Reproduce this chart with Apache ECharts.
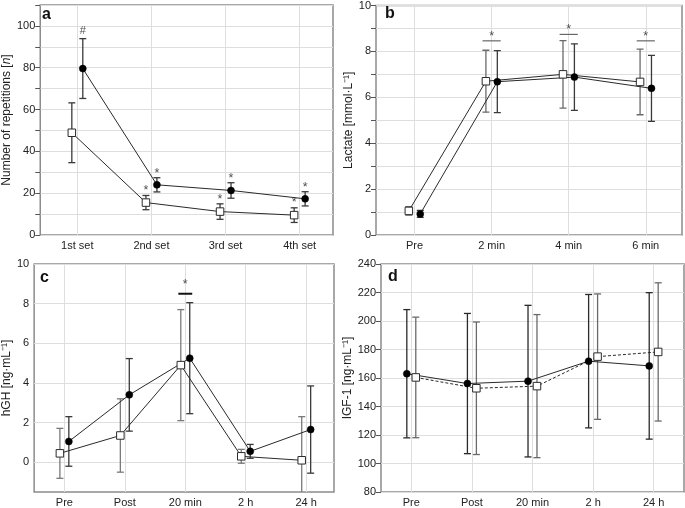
<!DOCTYPE html>
<html><head><meta charset="utf-8">
<script src="https://cdn.jsdelivr.net/npm/echarts@6/dist/echarts.min.js"></script>
<style>html,body{margin:0;padding:0;background:#fff}#c{width:685px;height:508px}</style>
</head><body><div id="c"></div><script>
// ---- Panel a: Number of repetitions ----
const aCategories = ['1st set', '2nd set', '3rd set', '4th set'];
const aOpenMean = [48.9, 15.5, 11.2, 9.5];
const aOpenSD = [14.3, 3.4, 3.7, 3.5];
const aFilledMean = [79.6, 24.0, 21.3, 17.3];
const aFilledSD = [14.3, 3.4, 3.7, 3.4];
const aYTicks = [0, 20, 40, 60, 80, 100];
// [category (1-based), side (-1 open / +1 filled / 0 centre), y, text]
const aMarks = [[1, 1, 97.6, '#'], [2, -1, 22.5, '*'], [2, 1, 30.5, '*'], [3, -1, 18.3, '*'], [3, 1, 28.2, '*'], [4, -1, 16.5, '*'], [4, 1, 23.8, '*']];

// ---- Panel b: Lactate ----
const bCategories = ['Pre', '2 min', '4 min', '6 min'];
const bOpenMean = [1.05, 6.70, 7.00, 6.67];
const bOpenSD = [0.18, 1.35, 1.47, 1.43];
const bFilledMean = [0.92, 6.68, 6.88, 6.39];
const bFilledSD = [0.15, 1.35, 1.45, 1.44];
const bYTicks = [0, 2, 4, 6, 8, 10];
const bSigLines = [[2, 8.46], [3, 8.74], [4, 8.46]];
const bMarks = [[2, 0, 8.75, '*'], [3, 0, 9.08, '*'], [4, 0, 8.74, '*']];

// ---- Panel c: hGH ----
const cCategories = ['Pre', 'Post', '20 min', '2 h', '24 h'];
const cOpenMean = [0.45, 1.35, 4.90, 0.30, 0.10];
const cOpenSD = [1.26, 1.85, 2.80, 0.35, 2.20];
const cFilledMean = [1.05, 3.40, 5.25, 0.55, 1.65];
const cFilledSD = [1.25, 1.83, 2.80, 0.35, 2.20];
const cYTicks = [0, 2, 4, 6, 8, 10];
const cSigLines = [[3, 8.5]];
const cMarks = [[3, 0, 9.1, '*']];

// ---- Panel d: IGF-1 ----
const dCategories = ['Pre', 'Post', '20 min', '2 h', '24 h'];
const dFilledMean = [163.0, 156.1, 157.8, 171.8, 168.5];
const dFilledSD = [45.0, 49.2, 53.2, 46.8, 51.4];
const dOpenMean = [160.4, 152.8, 154.3, 175.0, 178.3];
const dOpenSD = [42.3, 46.5, 50.2, 44.0, 48.5];

const FONT = '"Liberation Sans", Arial, Helvetica, sans-serif';
const GRID_C = '#dedede';
const FRAME_C = '#8c8c8c';

const grids = [
  { left: 33, top: 5, width: 300, height: 230 },
  { left: 376, top: 4, width: 306, height: 231 },
  { left: 29, top: 264, width: 305, height: 232 },
  { left: 381, top: 264, width: 303, height: 231 }
].map(g => Object.assign({ show: true, borderColor: FRAME_C, borderWidth: 1.5, backgroundColor: '#fff' }, g));

function xAxis(idx, cats, max) {
  const vals = cats.map((c, i) => i + 1);
  return {
    type: 'value', gridIndex: idx, min: 0.5, max: max,
    axisLine: { show: false },
    axisTick: { show: false, customValues: vals },
    splitLine: { show: true, lineStyle: { color: GRID_C, width: 1 } },
    axisLabel: { customValues: vals, formatter: v => cats[Math.round(v) - 1] || '', color: '#222', fontFamily: FONT, fontSize: 11, margin: 5 }
  };
}
function yAxis(idx, opts, labels, name, gap) {
  return Object.assign({
    type: 'value', gridIndex: idx,
    name: name, nameLocation: 'middle', nameGap: gap, nameRotate: 90,
    nameTextStyle: { fontFamily: FONT, fontSize: 12, color: '#222', rich: { i: { fontFamily: FONT, fontSize: 12, fontStyle: 'italic', color: '#222' } } },
    axisLine: { show: false },
    splitLine: { show: true, lineStyle: { color: GRID_C, width: 1 } },
    axisLabel: { customValues: labels, color: '#222', fontFamily: FONT, fontSize: 11, margin: 5 }
  }, opts);
}

const OFF = 0.074;
function pts(mean, side) { return mean.map((v, i) => [i + 1 + side * OFF, v]); }
function errData(mean, sd, side) { return mean.map((v, i) => [i + 1 + side * OFF, v - sd[i], v + sd[i]]); }

function errSeries(idx, mean, sd, side, color) {
  return {
    type: 'custom', xAxisIndex: idx, yAxisIndex: idx, clip: true, z: 3, silent: true,
    data: errData(mean, sd, side),
    renderItem: (params, api) => {
      const x = api.value(0), lo = api.value(1), hi = api.value(2);
      const pH = api.coord([x, hi]), pL = api.coord([x, lo]);
      const w = 3.5, st = { stroke: color, lineWidth: 1.3 };
      return { type: 'group', children: [
        { type: 'line', shape: { x1: pH[0], y1: pH[1], x2: pL[0], y2: pL[1] }, style: st },
        { type: 'line', shape: { x1: pH[0] - w, y1: pH[1], x2: pH[0] + w, y2: pH[1] }, style: st },
        { type: 'line', shape: { x1: pL[0] - w, y1: pL[1], x2: pL[0] + w, y2: pL[1] }, style: st }
      ] };
    }
  };
}
function lineSeries(idx, mean, side, filled, dashed) {
  return {
    type: 'line', xAxisIndex: idx, yAxisIndex: idx, z: 5, silent: true,
    data: pts(mean, side),
    symbol: filled ? 'circle' : 'rect', symbolSize: filled ? 7 : 7.5, showSymbol: true,
    lineStyle: { color: '#2a2a2a', width: 1, type: dashed ? [3, 2] : 'solid' },
    itemStyle: filled ? { color: '#000', borderColor: '#000', borderWidth: 0.5 } : { color: '#fff', borderColor: '#2a2a2a', borderWidth: 1 },
    animation: false
  };
}
function markSeries(idx, marks) {
  return {
    type: 'scatter', xAxisIndex: idx, yAxisIndex: idx, z: 6, silent: true, symbolSize: 0,
    data: marks.map(m => ({
      value: [m[0] + m[1] * OFF, m[2]], name: m[3],
      label: { offset: [0, m[3] === '*' ? 2.5 : 0], fontSize: m[3] === '*' ? 12.5 : 11 }
    })),
    label: { show: true, position: 'inside', formatter: p => p.name, fontFamily: FONT, fontSize: 12.5, color: '#222' }
  };
}
function sigSeries(idx, lines, half, color, width) {
  return {
    type: 'custom', xAxisIndex: idx, yAxisIndex: idx, z: 4, silent: true,
    data: lines,
    renderItem: (params, api) => {
      const x = api.value(0), y = api.value(1);
      const p1 = api.coord([x - half, y]), p2 = api.coord([x + half, y]);
      return { type: 'line', shape: { x1: p1[0], y1: p1[1], x2: p2[0], y2: p2[1] }, style: { stroke: color, lineWidth: width } };
    }
  };
}

const chart = echarts.init(document.getElementById('c'), null, { renderer: 'canvas' });
chart.setOption({
  animation: false,
  backgroundColor: '#fff',
  textStyle: { fontFamily: FONT },
  grid: grids,
  graphic: [
    { type: 'text', left: 42, top: 7, style: { text: 'a', font: 'bold 16px ' + FONT, fill: '#111' } },
    { type: 'text', left: 385, top: 6, style: { text: 'b', font: 'bold 16px ' + FONT, fill: '#111' } },
    { type: 'text', left: 40, top: 270, style: { text: 'c', font: 'bold 16px ' + FONT, fill: '#111' } },
    { type: 'text', left: 388, top: 269, style: { text: 'd', font: 'bold 16px ' + FONT, fill: '#111' } }
  ],
  xAxis: [
    xAxis(0, aCategories, 4.45),
    xAxis(1, bCategories, 4.47),
    xAxis(2, cCategories, 5.46),
    xAxis(3, dCategories, 5.5)
  ],
  yAxis: [
    yAxis(0, { min: 0, max: 110, interval: 10 }, aYTicks, 'Number of repetitions [{i|n}]', 23),
    yAxis(1, { min: 0, max: 10, interval: 1 }, bYTicks, 'Lactate [mmol·L⁻¹]', 21),
    yAxis(2, { min: -1.5, max: 10, axisTick: { show: false, customValues: cYTicks } }, cYTicks, 'hGH [ng·mL⁻¹]', 16),
    yAxis(3, { min: 80, max: 240, interval: 20 }, null, 'IGF-1 [ng·mL⁻¹]', 27)
  ],
  series: [
    // a
    errSeries(0, aOpenMean, aOpenSD, -1, '#3a3a3a'),
    errSeries(0, aFilledMean, aFilledSD, 1, '#3a3a3a'),
    lineSeries(0, aOpenMean, -1, false, false),
    lineSeries(0, aFilledMean, 1, true, false),
    markSeries(0, aMarks),
    // b
    errSeries(1, bOpenMean, bOpenSD, -1, '#6a6a6a'),
    errSeries(1, bFilledMean, bFilledSD, 1, '#3a3a3a'),
    lineSeries(1, bOpenMean, -1, false, false),
    lineSeries(1, bFilledMean, 1, true, false),
    sigSeries(1, bSigLines, 0.118, '#666', 1.2),
    markSeries(1, bMarks),
    // c
    errSeries(2, cOpenMean, cOpenSD, -1, '#7a7a7a'),
    errSeries(2, cFilledMean, cFilledSD, 1, '#3a3a3a'),
    lineSeries(2, cOpenMean, -1, false, false),
    lineSeries(2, cFilledMean, 1, true, false),
    sigSeries(2, cSigLines, 0.115, '#111', 2),
    markSeries(2, cMarks),
    // d
    errSeries(3, dFilledMean, dFilledSD, -1, '#2a2a2a'),
    errSeries(3, dOpenMean, dOpenSD, 1, '#6a6a6a'),
    lineSeries(3, dFilledMean, -1, true, false),
    lineSeries(3, dOpenMean, 1, false, true)
  ]
});
</script></body></html>
